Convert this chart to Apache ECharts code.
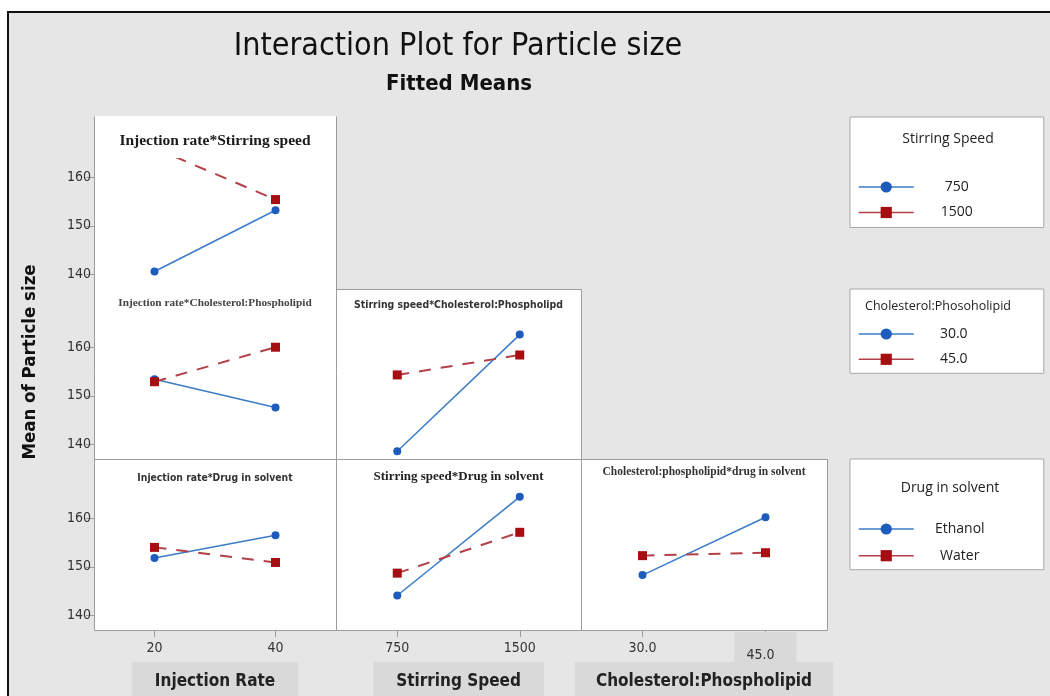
<!DOCTYPE html>
<html><head><meta charset="utf-8">
<script src="https://cdn.jsdelivr.net/npm/echarts@6/dist/echarts.min.js"></script>
<style>html,body{margin:0;padding:0;background:#fff}#c{width:1050px;height:696px}</style>
</head><body><div id="c"></div>
<script>
// ---------- data ----------
const injectionRate = ['20', '40'];
const stirringSpeed = ['750', '1500'];
const cholPhos = ['30.0', '45.0'];
const yTicks = [140, 150, 160];

const p1_750 = [140.6, 153.2];
const p1_1500 = [166.0, 155.4];
const p2_30 = [153.4, 147.6];
const p2_45 = [152.9, 160.0];
const p3_ethanol = [151.8, 156.5];
const p3_water = [154.0, 150.9];
const p4_30 = [138.6, 162.6];
const p4_45 = [154.3, 158.4];
const p5_ethanol = [144.1, 164.4];
const p5_water = [148.7, 157.1];
const p6_ethanol = [148.3, 160.2];
const p6_water = [152.3, 152.9];

const legendStirring = ['750', '1500'];
const legendChol = ['30.0', '45.0'];
const legendDrug = ['Ethanol', 'Water'];

// ---------- styles / layout ----------
const SANS_N = "'Liberation Sans Narrow','DejaVu Sans Condensed','Open Sans',sans-serif";
const SANS = "'Open Sans','Noto Sans',sans-serif";
const SERIF = "'Liberation Serif','DejaVu Serif',serif";
const GRAY = '#9c9c9c';
const BLUE = '#1d5cbd', BLUE_LINE = '#3b7bc8', RED = '#a60f12', RED_LINE = '#b24049';
const BOX = '#d9d9d9';

const colX = [94, 336, 581, 827];
const rowY = [116, 289, 459, 630];
const PPU = 4.86, Y_MIN = 137;

const panels = [
  {col:0,row:0,top:159,cats:injectionRate,title:'Injection rate*Stirring speed',font:SERIF,size:15.5,ty:141,color:'#1a1a1a',
   s:[['750',p1_750],['1500',p1_1500]], xname:'Injection Rate'},
  {col:0,row:1,cats:injectionRate,title:'Injection rate*Cholesterol:Phospholipid',font:SERIF,size:11.3,ty:303,color:'#444',
   s:[['30.0',p2_30],['45.0',p2_45]]},
  {col:0,row:2,cats:injectionRate,title:'Injection rate*Drug in solvent',font:SANS_N,size:10.3,ty:478,color:'#333',
   s:[['Ethanol',p3_ethanol],['Water',p3_water]], xname:'Injection Rate', pad:[10,23,8,23]},
  {col:1,row:1,cats:stirringSpeed,title:'Stirring speed*Cholesterol:Phospholipd',font:SANS_N,size:10.4,ty:305,color:'#333',
   s:[['30.0',p4_30],['45.0',p4_45]]},
  {col:1,row:2,cats:stirringSpeed,title:'Stirring speed*Drug in solvent',font:SERIF,size:13,ty:477,color:'#222',
   s:[['Ethanol',p5_ethanol],['Water',p5_water]], xname:'Stirring Speed', pad:[10,23,8,23]},
  {col:2,row:2,cats:cholPhos,title:'Cholesterol:phospholipid*drug in solvent',font:SERIF,size:11.5,ty:472,color:'#333',
   s:[['Ethanol',p6_ethanol],['Water',p6_water]], xname:'Cholesterol:Phospholipid', pad:[10,21,8,21]}
];

const grid = [], xAxis = [], yAxis = [], series = [], title = [];

title.push({text:'Interaction Plot for Particle size', left:458, top:47, textAlign:'center', textVerticalAlign:'middle', padding:0,
  textStyle:{fontFamily:SANS_N, fontSize:32, fontWeight:'normal', color:'#111'}});
title.push({text:'Fitted Means', left:459, top:84, textAlign:'center', textVerticalAlign:'middle', padding:0,
  textStyle:{fontFamily:SANS_N, fontSize:22, fontWeight:'bold', color:'#111'}});

panels.forEach((p, i) => {
  const left = colX[p.col], right = colX[p.col + 1];
  const top = p.top !== undefined ? p.top : rowY[p.row];
  const bottom = rowY[p.row + 1];
  const h = bottom - top;
  grid.push({left:left, top:top, width:right-left, height:h, show:true, backgroundColor:'#fff', borderWidth:0,
    containLabel:false, outerBoundsMode:'none'});
  const bottomRow = p.row === 2;
  xAxis.push({type:'category', gridIndex:i, data:p.cats, boundaryGap:true, show:bottomRow,
    axisLine:{show:false},
    axisTick:{show:true, alignWithLabel:true, length:7, lineStyle:{color:GRAY}},
    axisLabel:{margin:10, fontSize:14, color:'#333', fontFamily:SANS_N, lineHeight:16,
      formatter: v => (v === '45.0' ? '{box|' + v + '}' : v),
      rich:{box:{backgroundColor:BOX, padding:[16,22,2,12], fontSize:14, lineHeight:16, fontFamily:SANS_N, color:'#333'}}},
    splitLine:{show:false},
    name: bottomRow ? p.xname : '', nameLocation:'middle', nameGap:32, nameMoveOverlap:false,
    nameTextStyle:{fontFamily:SANS_N, fontWeight:'bold', fontSize:17, lineHeight:20, color:'#222',
      backgroundColor:BOX, padding:p.pad || [10,20,8,20]}});
  yAxis.push({type:'value', gridIndex:i, min:Y_MIN, max:Y_MIN + h / PPU, show:p.col === 0,
    axisLine:{show:false},
    axisTick:{show:true, length:8, customValues:yTicks, lineStyle:{color:GRAY}},
    axisLabel:{margin:3, customValues:yTicks, fontSize:14, color:'#333', fontFamily:SANS_N},
    splitLine:{show:false}});
  p.s.forEach((s, k) => {
    const red = k === 1;
    series.push({type:'line', name:s[0], xAxisIndex:i, yAxisIndex:i, data:s[1], clip:true,
      symbol: red ? 'rect' : 'circle', symbolSize: red ? 9 : 8,
      itemStyle:{color: red ? RED : BLUE},
      lineStyle:{color: red ? RED_LINE : BLUE_LINE, width: red ? 2 : 1.5, type: red ? [12, 10] : 'solid'},
      emphasis:{disabled:true}, z: red ? 3 : 2});
  });
  title.push({text:p.title, left:(left + right) / 2, top:p.ty, textAlign:'center', textVerticalAlign:'middle', padding:0,
    textStyle:{fontFamily:p.font, fontSize:p.size, fontWeight:'bold', color:p.color}});
});

// legend titles
title.push({text:'Stirring Speed', left:948, top:139, textAlign:'center', textVerticalAlign:'middle', padding:0,
  textStyle:{fontFamily:SANS, fontSize:14, fontWeight:'normal', color:'#222'}});
title.push({text:'Cholesterol:Phosoholipid', left:938, top:306, textAlign:'center', textVerticalAlign:'middle', padding:0,
  textStyle:{fontFamily:SANS, fontSize:12.5, fontWeight:'normal', color:'#222'}});
title.push({text:'Drug in solvent', left:950, top:488, textAlign:'center', textVerticalAlign:'middle', padding:0,
  textStyle:{fontFamily:SANS, fontSize:14, fontWeight:'normal', color:'#222'}});

function mkLegend(data, top, pad, gap, w) {
  return {data:data, orient:'vertical', left:850, top:top, padding:pad, itemGap:gap,
    itemWidth:55, itemHeight:14, selectedMode:false,
    backgroundColor:'#fff', borderColor:'#a8a8a8', borderWidth:1,
    lineStyle:{type:'solid', width:1.5},
    formatter: n => '{t|' + n + '}',
    textStyle:{fontFamily:SANS, fontSize:14, color:'#222', lineHeight:16,
      rich:{t:{width:w, align:'center', fontFamily:SANS, fontSize:14, lineHeight:16, color:'#222'}}}};
}
const legend = [
  mkLegend(legendStirring, 117, [62, 49, 7, 8], 9.5, 76),
  mkLegend(legendChol, 289, [37, 55, 6, 8], 9.3, 70),
  mkLegend(legendDrug, 459, [62, 43, 6, 8], 10.7, 82)
];

// decorative frame and panel borders
const graphic = [];
graphic.push({type:'rect', z:-10, shape:{x:8, y:12, width:1060, height:700},
  style:{fill:'#e6e6e6', stroke:'#111', lineWidth:2}, silent:true});
graphic.push({type:'rect', z:0, shape:{x:colX[0], y:rowY[0], width:colX[1]-colX[0], height:panels[0].top-rowY[0]},
  style:{fill:'#fff'}, silent:true});
const segs = [
  [colX[0], rowY[0], colX[0], rowY[3]],
  [colX[1], rowY[0], colX[1], rowY[3]],
  [colX[2], rowY[1], colX[2], rowY[3]],
  [colX[3], rowY[2], colX[3], rowY[3]],
  [colX[1], rowY[1], colX[2], rowY[1]],
  [colX[0], rowY[2], colX[3], rowY[2]],
  [colX[0], rowY[3], colX[3], rowY[3]]
];
segs.forEach(s => graphic.push({type:'line', z:1, silent:true,
  shape:{x1:s[0]+0.5, y1:s[1]+0.5, x2:s[2]+0.5, y2:s[3]+0.5}, style:{stroke:GRAY, lineWidth:1}}));
graphic.push({type:'text', z:5, x:30, y:362, rotation:Math.PI/2, silent:true,
  style:{text:'Mean of Particle size', align:'center', verticalAlign:'middle',
    font:"bold 18.5px 'Liberation Sans Narrow','DejaVu Sans Condensed','Open Sans',sans-serif", fill:'#111'}});

const chart = echarts.init(document.getElementById('c'), null, {renderer:'canvas'});
chart.setOption({
  backgroundColor:'#fff',
  animation:false,
  title:title, legend:legend, grid:grid, xAxis:xAxis, yAxis:yAxis, series:series, graphic:graphic
});
</script></body></html>
